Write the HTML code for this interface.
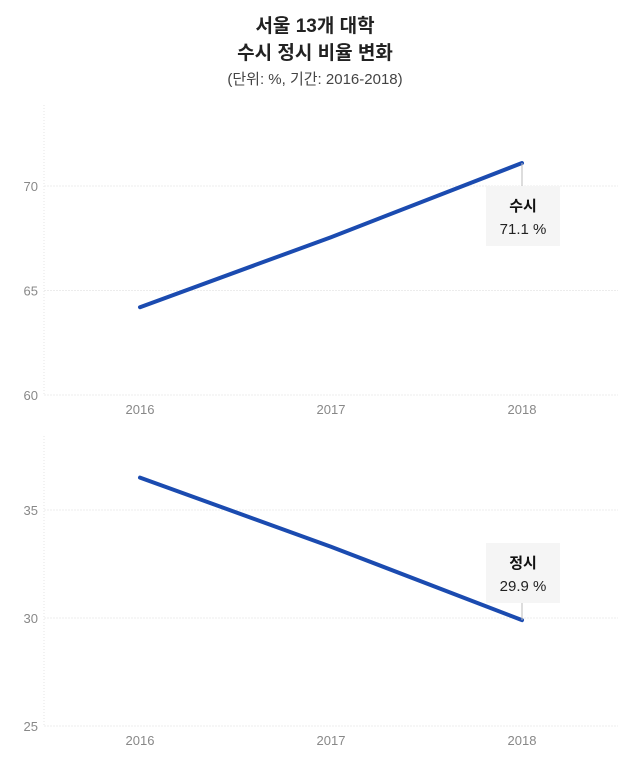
<!DOCTYPE html>
<html><head><meta charset="utf-8"><style>
body{margin:0;background:#fff;width:630px;height:759px;overflow:hidden;font-family:"Liberation Sans","Noto Sans CJK KR",sans-serif}
</style></head><body>
<svg width="630" height="759" xmlns="http://www.w3.org/2000/svg" font-family="Liberation Sans, Noto Sans CJK KR, sans-serif">
<text x="315" y="32" text-anchor="middle" font-size="19" font-weight="bold" fill="#222">서울 13개 대학</text>
<text x="315" y="59" text-anchor="middle" font-size="19" font-weight="bold" fill="#222">수시 정시 비율 변화</text>
<text x="315" y="84" text-anchor="middle" font-size="15" fill="#444">(단위: %, 기간: 2016-2018)</text>
<g id="top"></g>
<g id="bot"></g>
</svg>
<script>
const years = ["2016","2017","2018"];
const susiValues = [64.2, 67.55, 71.1];
const jeongsiValues = [36.5, 33.3, 29.9];
const susiTicks = [60, 65, 70];
const jeongsiTicks = [25, 30, 35];
const NS="http://www.w3.org/2000/svg";
function mk(tag,attrs,parent){const e=document.createElementNS(NS,tag);for(const k in attrs)e.setAttribute(k,attrs[k]);parent.appendChild(e);return e;}
const xScale=i=>140+i*191;
function panel(g,vals,ticks,yMin,y0,pxPerUnit,yBottom,xLabelY,name,boxY){
  const y=v=>y0-(v-yMin)*pxPerUnit;
  const ax=mk('line',{x1:44,x2:44,y1:yBottom-290,y2:yBottom,stroke:'#e6e6e6','stroke-dasharray':'1,2'},g);
  
  
  ticks.forEach(t=>{
    const l=mk('line',{x1:44,x2:618,y1:y(t),y2:y(t),stroke:'#ececec','stroke-dasharray':'2,1'},g);
    
    
    const tx=mk('text',{x:38,y:y(t)+5,'text-anchor':'end','font-size':13,fill:'#888'},g);
    tx.textContent=t;
    
    
  });
  years.forEach((yr,i)=>{
    const tx=mk('text',{x:xScale(i),y:xLabelY,'text-anchor':'middle','font-size':13,fill:'#888'},g);
    tx.textContent=yr;
    
    
  });
  const p=mk('polyline',{points:vals.map((v,i)=>xScale(i)+','+y(v)).join(' '),fill:'none',stroke:'#1b4bb0','stroke-width':4,'stroke-linecap':'round','stroke-linejoin':'round'},g);
  
  
  const last=vals.length-1, lx=xScale(last), ly=y(vals[last]);
  const ld=mk('line',{x1:lx,x2:lx,y1:Math.min(ly,boxY),y2:Math.max(ly,boxY+60),stroke:'#bbb','stroke-width':1},g);
  
  
  const r=mk('rect',{x:lx-36,y:boxY,width:74,height:60,fill:'#f5f5f5'},g);
  
  
  const t1=mk('text',{x:lx+1,y:boxY+25,'text-anchor':'middle','font-size':15,'font-weight':'bold',fill:'#111'},g);
  t1.textContent=name;
  
  
  const t2=mk('text',{x:lx+1,y:boxY+48,'text-anchor':'middle','font-size':15,fill:'#222'},g);
  t2.textContent=vals[last].toFixed(1)+' %';
  
  
}
panel(document.getElementById('top'),susiValues,susiTicks,60,395,20.9,395,414,'수시',186);
panel(document.getElementById('bot'),jeongsiValues,jeongsiTicks,25,726,21.6,726,745,'정시',543);
</script>
</body></html>
